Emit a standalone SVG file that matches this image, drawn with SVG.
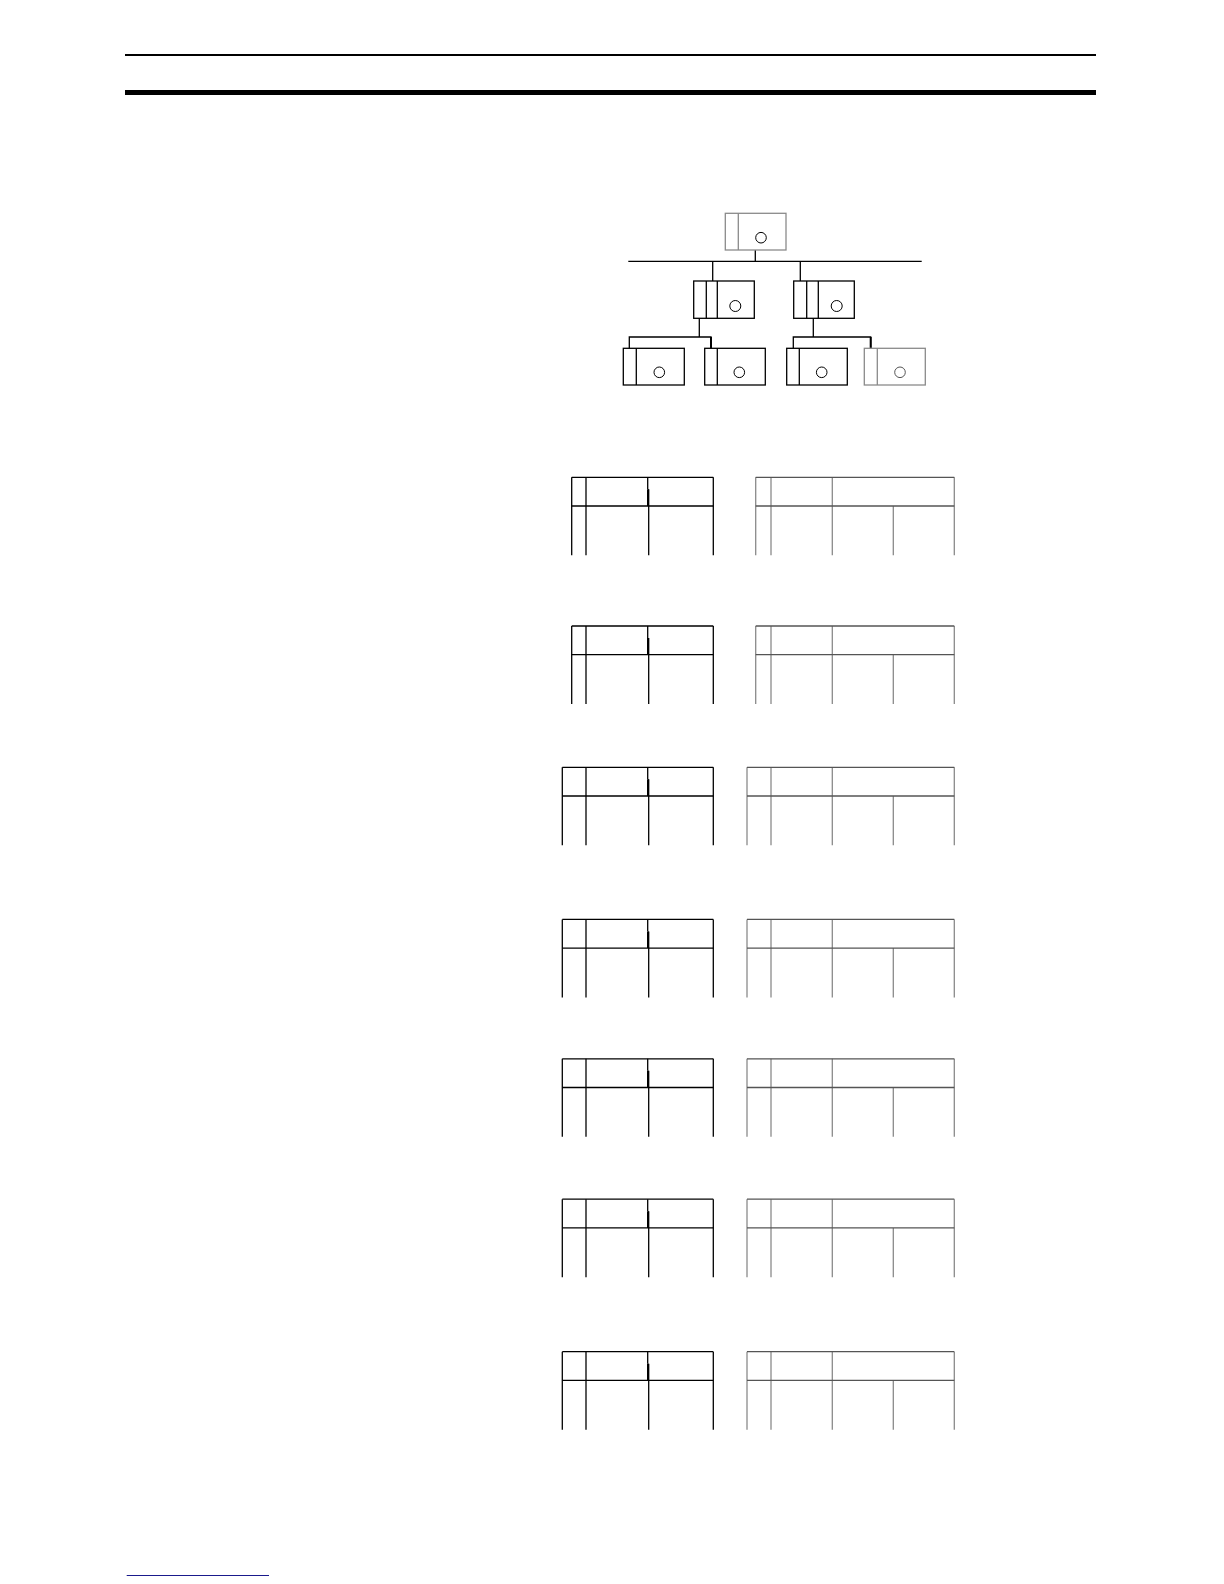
<svg xmlns="http://www.w3.org/2000/svg" width="1224" height="1584" viewBox="0 0 1224 1584">
<style>
.k{fill:none;stroke:#000;stroke-width:1.3}
.g{fill:none;stroke:#8a8a8a;stroke-width:1.3}
.gd{fill:none;stroke:#555;stroke-width:1.3}
.c{fill:#fff;stroke:#000;stroke-width:1}
.cg{fill:#fff;stroke:#555;stroke-width:1}
</style>
<rect width="1224" height="1584" fill="#fff"/>
<g id="header">
<line x1="125" y1="55" x2="1096" y2="55" stroke="#000" stroke-width="2"/>
<line x1="125" y1="92.5" x2="1096" y2="92.5" stroke="#000" stroke-width="5"/>
</g>
<line id="footer-link" x1="126.7" y1="1575.5" x2="269" y2="1575.5" stroke="#1a1a8c" stroke-width="1"/>

<g id="connectors" class="k">
<line x1="755.3" y1="250" x2="755.3" y2="261.3"/>
<line x1="628.3" y1="261.3" x2="921.7" y2="261.3"/>
<line x1="712.7" y1="261.3" x2="712.7" y2="281"/>
<line x1="800.3" y1="261.3" x2="800.3" y2="281"/>
<line x1="699.3" y1="318.3" x2="699.3" y2="337"/>
<polyline points="629.3,348.3 629.3,337 711,337 711,348.3"/>
<line x1="711" y1="337" x2="711" y2="348.3" stroke-width="2"/>
<line x1="813.3" y1="318.3" x2="813.3" y2="337"/>
<polyline points="793.3,348.3 793.3,337 870.7,337 870.7,348.3"/>
<line x1="870.7" y1="337" x2="870.7" y2="348.3" stroke-width="2"/>
</g>

<g id="node-top">
<rect x="725.3" y="213.3" width="60.7" height="36.7" class="g"/>
<line x1="738.3" y1="213.3" x2="738.3" y2="250" class="g"/>
<circle cx="761" cy="237.7" r="5.3" class="c"/>
</g>
<g id="node-mid-left">
<rect x="693.7" y="281" width="60.6" height="37.3" class="k"/>
<line x1="706.3" y1="281" x2="706.3" y2="318.3" class="k"/>
<line x1="717.3" y1="281" x2="717.3" y2="318.3" class="k"/>
<circle cx="735.3" cy="306" r="5.5" class="c"/>
</g>
<g id="node-mid-right">
<rect x="793.7" y="281" width="60.6" height="37.3" class="k"/>
<line x1="806.7" y1="281" x2="806.7" y2="318.3" class="k"/>
<line x1="818.3" y1="281" x2="818.3" y2="318.3" class="k"/>
<circle cx="836.7" cy="306" r="5.5" class="c"/>
</g>
<g id="node-b1">
<rect x="623.3" y="348.3" width="61" height="36.7" class="k"/>
<line x1="636.3" y1="348.3" x2="636.3" y2="385" class="k"/>
<circle cx="659.3" cy="372.3" r="5.3" class="c"/>
</g>
<g id="node-b2">
<rect x="704.7" y="348.3" width="60.6" height="36.7" class="k"/>
<line x1="717.3" y1="348.3" x2="717.3" y2="385" class="k"/>
<circle cx="739.3" cy="372.3" r="5.3" class="c"/>
</g>
<g id="node-b3">
<rect x="786.7" y="348.3" width="60.6" height="36.7" class="k"/>
<line x1="799.3" y1="348.3" x2="799.3" y2="385" class="k"/>
<circle cx="821.7" cy="372.3" r="5.3" class="c"/>
</g>
<g id="node-b4">
<rect x="864.3" y="348.3" width="61" height="36.7" class="g"/>
<line x1="877.3" y1="348.3" x2="877.3" y2="385" class="g"/>
<circle cx="900" cy="372.3" r="5.3" class="cg"/>
</g>

<defs>
<!-- shared table bodies; left edges drawn per table -->
<g id="tblL">
<line x1="586" y1="0" x2="586" y2="78" class="k"/>
<line x1="647.7" y1="0" x2="647.7" y2="12" class="k"/>
<line x1="648.7" y1="12" x2="648.7" y2="78" class="k"/>
<line x1="648" y1="12" x2="648" y2="28.7" stroke="#000" stroke-width="2"/>
<line x1="713.3" y1="0" x2="713.3" y2="78" class="k"/>
</g>
<g id="tblR">
<line x1="771" y1="0" x2="771" y2="78" class="g"/>
<line x1="832.3" y1="0" x2="832.3" y2="78" class="g"/>
<line x1="893.3" y1="28.7" x2="893.3" y2="78" class="g"/>
<line x1="954.3" y1="0" x2="954.3" y2="78" class="g"/>
</g>
<g id="rowA">
<use href="#tblL"/>
<use href="#tblR"/>
<line x1="571.7" y1="0" x2="571.7" y2="78" class="k"/>
<line x1="571.7" y1="0" x2="713.3" y2="0" class="k"/>
<line x1="571.7" y1="28.7" x2="713.3" y2="28.7" class="k"/>
<line x1="755.7" y1="0" x2="755.7" y2="78" class="g"/>
<line x1="755.7" y1="0" x2="954.3" y2="0" class="gd"/>
<line x1="755.7" y1="28.7" x2="954.3" y2="28.7" class="gd"/>
</g>
<g id="rowB">
<use href="#tblL"/>
<use href="#tblR"/>
<line x1="562.3" y1="0" x2="562.3" y2="78" class="k"/>
<line x1="562.3" y1="0" x2="713.3" y2="0" class="k"/>
<line x1="562.3" y1="28.7" x2="713.3" y2="28.7" class="k"/>
<line x1="747" y1="0" x2="747" y2="78" class="g"/>
<line x1="747" y1="0" x2="954.3" y2="0" class="gd"/>
<line x1="747" y1="28.7" x2="954.3" y2="28.7" class="gd"/>
</g>
</defs>

<g id="table-1"><use href="#rowA" y="477.3"/></g>
<g id="table-2"><use href="#rowA" y="626"/></g>
<g id="table-3"><use href="#rowB" y="767.3"/></g>
<g id="table-4"><use href="#rowB" y="919.4"/></g>
<g id="table-5"><use href="#rowB" y="1058.8"/></g>
<g id="table-6"><use href="#rowB" y="1199.2"/></g>
<g id="table-7"><use href="#rowB" y="1351.7"/></g>
</svg>
